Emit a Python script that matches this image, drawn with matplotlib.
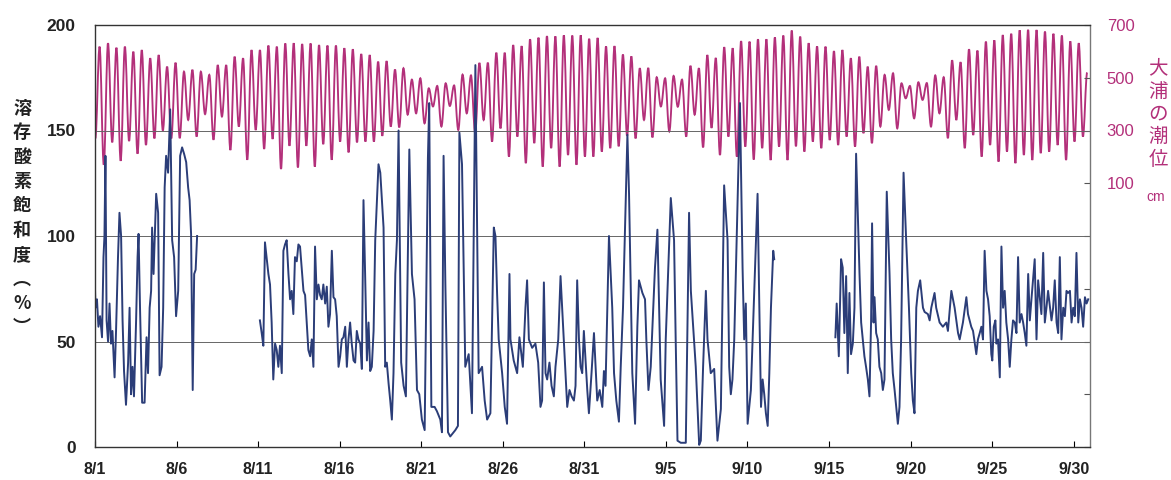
import numpy as np
import matplotlib
matplotlib.use("Agg")
import matplotlib.pyplot as plt
from matplotlib.path import Path
from matplotlib.patches import PathPatch

# ---------------- data ----------------
date_labels = ['8/1', '8/6', '8/11', '8/16', '8/21', '8/26', '8/31',
               '9/5', '9/10', '9/15', '9/20', '9/25', '9/30']
date_days = [0, 5, 10, 15, 20, 25, 30, 35, 40, 45, 50, 55, 60]

# tide (Oura) high / low water levels, cm, one per semidiurnal cycle
tide_high = [618, 631, 614, 618, 599, 605, 574, 586, 542, 557, 523, 530, 523, 511, 548, 548,
             580, 574, 605, 605, 622, 618, 630, 631, 628, 630, 624, 622, 622, 612, 608, 590,
             586, 561, 563, 531, 536, 493, 498, 460, 469, 479, 471, 512, 509, 556, 557, 595,
             595, 624, 620, 646, 652, 658, 657, 661, 660, 661, 648, 651, 619, 620, 588, 581,
             536, 537, 502, 498, 507, 493, 545, 536, 586, 575, 616, 612, 639, 637, 646, 646,
             653, 660, 679, 656, 631, 619, 618, 601, 605, 574, 580, 542, 545, 511, 517, 479,
             469, 483, 480, 509, 502, 566, 559, 608, 603, 637, 642, 662, 667, 680, 682, 681,
             675, 667, 660, 638, 631, 520]
tide_low = [270, 170, 255, 185, 260, 212, 245, 270, 300, 270, 271, 340, 277, 362, 265, 353,
            226, 315, 189, 302, 230, 268, 154, 242, 160, 242, 163, 248, 189, 258, 217, 255,
            258, 258, 280, 315, 312, 360, 365, 327, 391, 315, 393, 302, 365, 290, 340, 258,
            308, 201, 277, 176, 252, 163, 233, 163, 207, 170, 201, 201, 220, 233, 240, 280,
            270, 340, 274, 391, 296, 390, 277, 360, 236, 310, 207, 277, 201, 239, 190, 233,
            188, 239, 188, 240, 220, 258, 233, 264, 245, 277, 239, 290, 252, 315, 378, 308,
            422, 346, 416, 315, 365, 271, 340, 233, 283, 201, 245, 182, 220, 176, 207, 188,
            214, 220, 245, 188, 258, 277]
tide_first_low_day = 0.02
tide_first_high_day = 0.28
tide_cycle_days = 0.5175

# dissolved-oxygen saturation (%), (day since 8/1, value)
do_seg1 = [(0.00, 75), (0.03, 66), (0.12, 70), (0.21, 57), (0.31, 62), (0.43, 52), (0.52, 90),
           (0.58, 100), (0.64, 138), (0.71, 60), (0.80, 50), (0.89, 68), (0.98, 49), (1.07, 55),
           (1.20, 33), (1.29, 55), (1.41, 90), (1.50, 111), (1.60, 100), (1.69, 60), (1.78, 36),
           (1.90, 20), (2.03, 40), (2.12, 66), (2.21, 25), (2.30, 38), (2.39, 24), (2.52, 60),
           (2.61, 90), (2.67, 101), (2.76, 66), (2.89, 21), (3.04, 21), (3.16, 52), (3.25, 35),
           (3.35, 66), (3.44, 74), (3.50, 104), (3.59, 82), (3.75, 120), (3.87, 111), (3.96, 34),
           (4.08, 38), (4.18, 66), (4.27, 123), (4.36, 138), (4.48, 130), (4.61, 160), (4.73, 98),
           (4.85, 90), (4.97, 62), (5.10, 74), (5.22, 138), (5.34, 142), (5.46, 139), (5.59, 135),
           (5.71, 123), (5.80, 117), (5.89, 101), (5.99, 27), (6.08, 82), (6.17, 84), (6.26, 100)]

do_seg2 = [(10.11, 60), (10.22, 54), (10.32, 48), (10.42, 97), (10.52, 90), (10.63, 82), (10.73, 77),
           (10.83, 59), (10.93, 32), (11.04, 49), (11.14, 46), (11.24, 38), (11.34, 48), (11.45, 35),
           (11.55, 93), (11.65, 96), (11.75, 98), (11.86, 82), (11.96, 70), (12.06, 74), (12.16, 63),
           (12.26, 90), (12.37, 88), (12.47, 96), (12.57, 95), (12.67, 85), (12.78, 74), (12.88, 72),
           (12.98, 59), (13.08, 46), (13.19, 43), (13.29, 51), (13.39, 38), (13.49, 95), (13.60, 70),
           (13.70, 77), (13.80, 72), (13.90, 70), (14.00, 77), (14.11, 68), (14.21, 76), (14.31, 57),
           (14.41, 63), (14.52, 93), (14.62, 71), (14.72, 70), (14.82, 62), (14.93, 38), (15.03, 43),
           (15.13, 51), (15.23, 52), (15.34, 57), (15.44, 38), (15.54, 51), (15.64, 59), (15.74, 49),
           (15.85, 41), (15.95, 40), (16.05, 55), (16.15, 51), (16.26, 49), (16.36, 37), (16.46, 117),
           (16.56, 82), (16.67, 41), (16.77, 59), (16.87, 36), (16.97, 38), (17.08, 55), (17.18, 98),
           (17.38, 134), (17.49, 130), (17.59, 117), (17.69, 104), (17.79, 38), (17.89, 40), (18.00, 30),
           (18.10, 22), (18.20, 13), (18.30, 35), (18.41, 82), (18.51, 98),
           (18.61, 150), (18.77, 40), (18.92, 29), (19.06, 24), (19.27, 141), (19.43, 82), (19.59, 70),
           (19.74, 27), (19.88, 25), (20.04, 13), (20.21, 8), (20.41, 137), (20.49, 163), (20.62, 19),
           (20.82, 19), (20.96, 17), (21.17, 13), (21.27, 7), (21.37, 138), (21.48, 77), (21.64, 7),
           (21.78, 5), (22.09, 8), (22.25, 10), (22.34, 149), (22.50, 134), (22.70, 38), (22.91, 44),
           (23.11, 16), (23.32, 181), (23.52, 35), (23.73, 38), (23.89, 22), (24.04, 13), (24.24, 16),
           (24.45, 104), (24.55, 100), (24.65, 73), (24.75, 51), (24.96, 35), (25.12, 19), (25.26, 11),
           (25.41, 82), (25.47, 51), (25.67, 41), (25.88, 35), (26.02, 52), (26.23, 38), (26.39, 66),
           (26.49, 79), (26.60, 51), (26.80, 47), (27.00, 49), (27.17, 40), (27.31, 19), (27.41, 22),
           (27.52, 78), (27.62, 35), (27.72, 32), (27.86, 40), (27.99, 29), (28.13, 24), (28.23, 38),
           (28.40, 51), (28.54, 81), (28.74, 51), (28.95, 19), (29.09, 27), (29.22, 24), (29.36, 22),
           (29.46, 29), (29.56, 79), (29.67, 51), (29.77, 38), (29.87, 35), (29.97, 55), (30.18, 27),
           (30.28, 16), (30.44, 35), (30.59, 54), (30.79, 22), (30.94, 27), (31.10, 19), (31.20, 36),
           (31.30, 29), (31.51, 100), (31.71, 66), (31.82, 35), (31.96, 22), (32.12, 12), (32.23, 38),
           (32.37, 66), (32.64, 148), (32.74, 120), (32.94, 35), (33.11, 11), (33.25, 57), (33.35, 79),
           (33.56, 73), (33.72, 70), (33.80, 51), (33.93, 27), (34.07, 38), (34.33, 85), (34.48, 103),
           (34.68, 32), (34.89, 10), (34.99, 51), (35.30, 118), (35.50, 98), (35.60, 51), (35.71, 3),
           (35.91, 2), (36.22, 2), (36.42, 111), (36.53, 74), (36.67, 57), (36.83, 38), (37.04, 1),
           (37.14, 3), (37.28, 38), (37.45, 74), (37.55, 51), (37.75, 35), (37.96, 37), (38.16, 3),
           (38.37, 18), (38.57, 124), (38.78, 98), (38.88, 38), (38.98, 25), (39.08, 32), (39.19, 51),
           (39.54, 163), (39.70, 85), (39.80, 51), (39.90, 68), (40.01, 11), (40.21, 27), (40.62, 120),
           (40.72, 70), (40.83, 19), (40.93, 32), (41.03, 25), (41.13, 16), (41.24, 10), (41.34, 35),
           (41.44, 66), (41.58, 93), (41.64, 89)]

do_seg3 = [(45.39, 52), (45.47, 68), (45.60, 43), (45.74, 89), (45.84, 85), (45.94, 54), (46.05, 81),
           (46.15, 35), (46.25, 73), (46.35, 44), (46.46, 49), (46.56, 66), (46.66, 139), (46.87, 82),
           (46.97, 59), (47.17, 43), (47.27, 38), (47.38, 32), (47.48, 24), (47.58, 60), (47.64, 106),
           (47.73, 59), (47.79, 71), (47.89, 54), (47.99, 51), (48.09, 38), (48.20, 35), (48.30, 27),
           (48.40, 32), (48.54, 121), (48.71, 82), (48.81, 51), (48.91, 35), (49.02, 27), (49.12, 19),
           (49.22, 11), (49.32, 19), (49.42, 51), (49.57, 130), (49.73, 98), (49.90, 66), (50.04, 35),
           (50.14, 22), (50.24, 16), (50.35, 66), (50.45, 74), (50.59, 79), (50.76, 66), (50.86, 64),
           (51.06, 63), (51.17, 60), (51.27, 66), (51.47, 73), (51.57, 66), (51.78, 59), (51.98, 57),
           (52.19, 59), (52.29, 55), (52.50, 74), (52.70, 66), (52.91, 54), (53.01, 51), (53.21, 59),
           (53.42, 71), (53.52, 63), (53.72, 57), (53.83, 55), (54.03, 44), (54.13, 51), (54.24, 54),
           (54.34, 57), (54.44, 51), (54.54, 93), (54.65, 74), (54.75, 70), (54.85, 62), (54.95, 44),
           (55.01, 41), (55.10, 57), (55.20, 60), (55.26, 49), (55.36, 51), (55.47, 33), (55.57, 95),
           (55.67, 66), (55.77, 74), (55.87, 59), (55.98, 51), (56.08, 38), (56.18, 51), (56.28, 60),
           (56.39, 59), (56.49, 54), (56.59, 90), (56.69, 59), (56.80, 63), (56.90, 59), (57.00, 54),
           (57.10, 48), (57.21, 82), (57.31, 60), (57.41, 70), (57.61, 89), (57.72, 51), (57.82, 79),
           (57.92, 71), (58.02, 63), (58.13, 92), (58.23, 59), (58.33, 66), (58.43, 74), (58.64, 60),
           (58.74, 66), (58.84, 79), (58.95, 59), (59.05, 54), (59.15, 90), (59.25, 51), (59.36, 66),
           (59.46, 62), (59.56, 74), (59.66, 73), (59.77, 74), (59.87, 59), (59.97, 66), (60.07, 62),
           (60.17, 92), (60.28, 59), (60.38, 70), (60.48, 66), (60.58, 57), (60.69, 71), (60.79, 68),
           (60.89, 70)]

left_label = "溶存酸素飽和度︵%︶"
right_label = "大浦の潮位"

# ---------------- styling ----------------
W, H = 1171, 480
NAVY = "#2b3d78"
PINK = "#b3307a"
TXT = "#222222"

fig = plt.figure(figsize=(W / 100, H / 100), dpi=100)
ax = fig.add_axes([95 / W, 1 - 447 / H, (1090 - 95) / W, (447 - 25) / H])
ax2 = ax.twinx()

# tide line: drawn as a smooth curve through the high/low waters
n = len(tide_high)
t_low = tide_first_low_day + tide_cycle_days * np.arange(len(tide_low))
t_high = tide_first_high_day + tide_cycle_days * np.arange(n)
tt = np.empty(2 * n)
tv = np.empty(2 * n)
tt[0::2] = t_low
tt[1::2] = t_high
tv[0::2] = tide_low
tv[1::2] = tide_high
verts = [(tt[0], tv[0])]
codes = [Path.MOVETO]
for k in range(1, len(tt)):
    dt = tt[k] - tt[k - 1]
    verts += [(tt[k - 1] + dt * 0.36, tv[k - 1]), (tt[k] - dt * 0.36, tv[k]), (tt[k], tv[k])]
    codes += [Path.CURVE4] * 3
ax2.add_patch(PathPatch(Path(verts, codes), facecolor="none", edgecolor=PINK, lw=1.35))
ax2.set_ylim(-900, 700)
ax2.set_yticks(list(range(-900, 701, 200)))
ax2.set_yticklabels([str(v) if v >= 100 else "" for v in range(-900, 701, 200)])
ax2.tick_params(axis="y", direction="in", length=4, colors="#555555",
                labelcolor=PINK, labelsize=12, pad=12)

# DO line
for seg in (do_seg1, do_seg2, do_seg3):
    d = np.array(seg)
    ax.plot(d[:, 0], d[:, 1], color=NAVY, lw=1.4, solid_joinstyle="round")

ax.set_zorder(ax2.get_zorder() + 1)
ax.patch.set_visible(False)

for g in (50, 100, 150):
    ax.axhline(g, color="#666666", lw=0.7, zorder=0)

ax.set_xlim(0, 61)
ax.set_ylim(0, 200)
ax.set_yticks([0, 50, 100, 150, 200])
ax.tick_params(axis="y", length=0, pad=14, labelsize=12.5, labelcolor=TXT)
ax.set_xticks(date_days)
ax.set_xticklabels(date_labels)
ax.tick_params(axis="x", direction="in", length=4, pad=11, labelsize=11.5, labelcolor=TXT)
for lab in ax.get_xticklabels() + ax.get_yticklabels():
    lab.set_fontfamily("Liberation Sans")
    lab.set_fontweight("bold")
for lab in ax2.get_yticklabels():
    lab.set_fontfamily("Liberation Sans")

for sp in ax.spines.values():
    sp.set_color("#333333")
    sp.set_linewidth(1.0)
for sp in ax2.spines.values():
    sp.set_visible(False)
ax.spines["right"].set_color("#777777")

# vertical labels
cjk = ["Noto Sans CJK JP", "DejaVu Sans"]
fig.text(22 / W, 1 - 218 / H, "\n".join(left_label), ha="center", va="center",
         fontsize=13, family=cjk, fontweight="bold", color=TXT, linespacing=1.36)
fig.text(1158 / W, 1 - 114 / H, "\n".join(right_label), ha="center", va="center",
         fontsize=14, family=cjk, color=PINK, linespacing=1.12)
fig.text(1156 / W, 1 - 197 / H, "cm", ha="center", va="center",
         fontsize=10, family="Liberation Sans", color=PINK)

fig.savefig("out.png", dpi=100)
